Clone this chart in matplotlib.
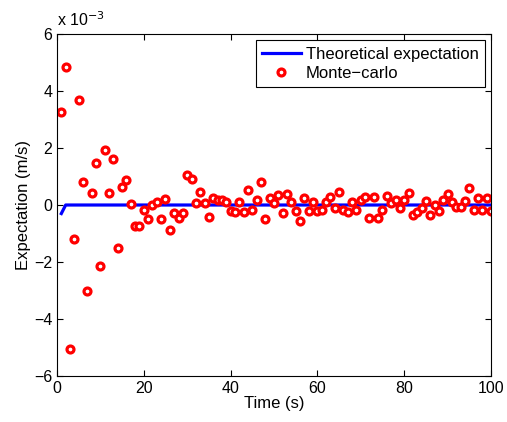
import matplotlib
matplotlib.use('Agg')
import matplotlib.pyplot as plt
from matplotlib.ticker import FuncFormatter
import numpy as np

plt.rcParams['font.family'] = ['Liberation Sans', 'DejaVu Sans']
plt.rcParams['font.size'] = 11

# time steps (s)
t = np.arange(1, 101)

# theoretical expectation (x 1e-3 m/s)
theory = np.zeros(100)
theory[0] = -0.3

# Monte-carlo estimate (x 1e-3 m/s)
mc = [3.27, 4.83, -5.06, -1.20, 3.68, 0.81, -3.03, 0.41, 1.47, -2.13,
      1.93, 0.42, 1.60, -1.51, 0.62, 0.89, 0.05, -0.72, -0.72, -0.16,
      -0.48, 0.00, 0.09, -0.49, 0.20, -0.86, -0.27, -0.46, -0.27, 1.04,
      0.93, 0.08, 0.47, 0.08, -0.42, 0.26, 0.17, 0.17, 0.12, -0.21,
      -0.24, 0.12, -0.24, 0.53, -0.18, 0.19, 0.82, -0.49, 0.26, 0.08,
      0.35, -0.27, 0.37, 0.12, -0.20, -0.57, 0.23, -0.20, 0.12, -0.20,
      -0.19, 0.12, 0.29, -0.09, 0.44, -0.18, -0.26, 0.12, -0.18, 0.17,
      0.29, -0.47, 0.29, -0.47, -0.18, 0.32, 0.06, 0.17, -0.09, 0.17,
      0.43, -0.35, -0.26, -0.09, 0.14, -0.35, 0.00, -0.20, 0.17, 0.37,
      0.12, -0.06, -0.06, 0.14, 0.59, -0.18, 0.26, -0.18, 0.26, -0.21]

fig = plt.figure(figsize=(5.07, 4.22), dpi=100)
ax = fig.add_axes([0.1124, 0.109, 0.856, 0.8104])

ax.plot(t, theory * 1e-3, color='#0000ff', lw=2.3, label='Theoretical expectation')
ax.plot(t, np.array(mc) * 1e-3, 'o', color='red', mfc='white', mec='red',
        ms=5, mew=2.3, label='Monte\u2212carlo')

ax.set_xlim(0, 100)
ax.set_ylim(-6e-3, 6e-3)
ax.set_xticks([0, 20, 40, 60, 80, 100])
ax.set_yticks(np.arange(-6, 7, 2) * 1e-3)
ax.yaxis.set_major_formatter(FuncFormatter(lambda v, p: f'{v * 1e3:.0f}'.replace('-', '\u2212')))
ax.tick_params(direction='in', top=True, right=True, length=4, labelsize=11.5)
ax.text(0.0, 1.015, 'x 10$^{-3}$', transform=ax.transAxes, fontsize=11.5,
        ha='left', va='bottom')

ax.set_xlabel('Time (s)', fontsize=12, labelpad=0)
ax.set_ylabel('Expectation (m/s)', fontsize=12, labelpad=2)

leg = ax.legend(loc='upper right', fancybox=False, edgecolor='black', fontsize=12,
                handlelength=2.3, handletextpad=0.3, borderaxespad=0.35, framealpha=1,
                borderpad=0.4, labelspacing=0.25)
leg.get_frame().set_linewidth(0.8)

plt.savefig('out.png', dpi=100)
plt.close()
